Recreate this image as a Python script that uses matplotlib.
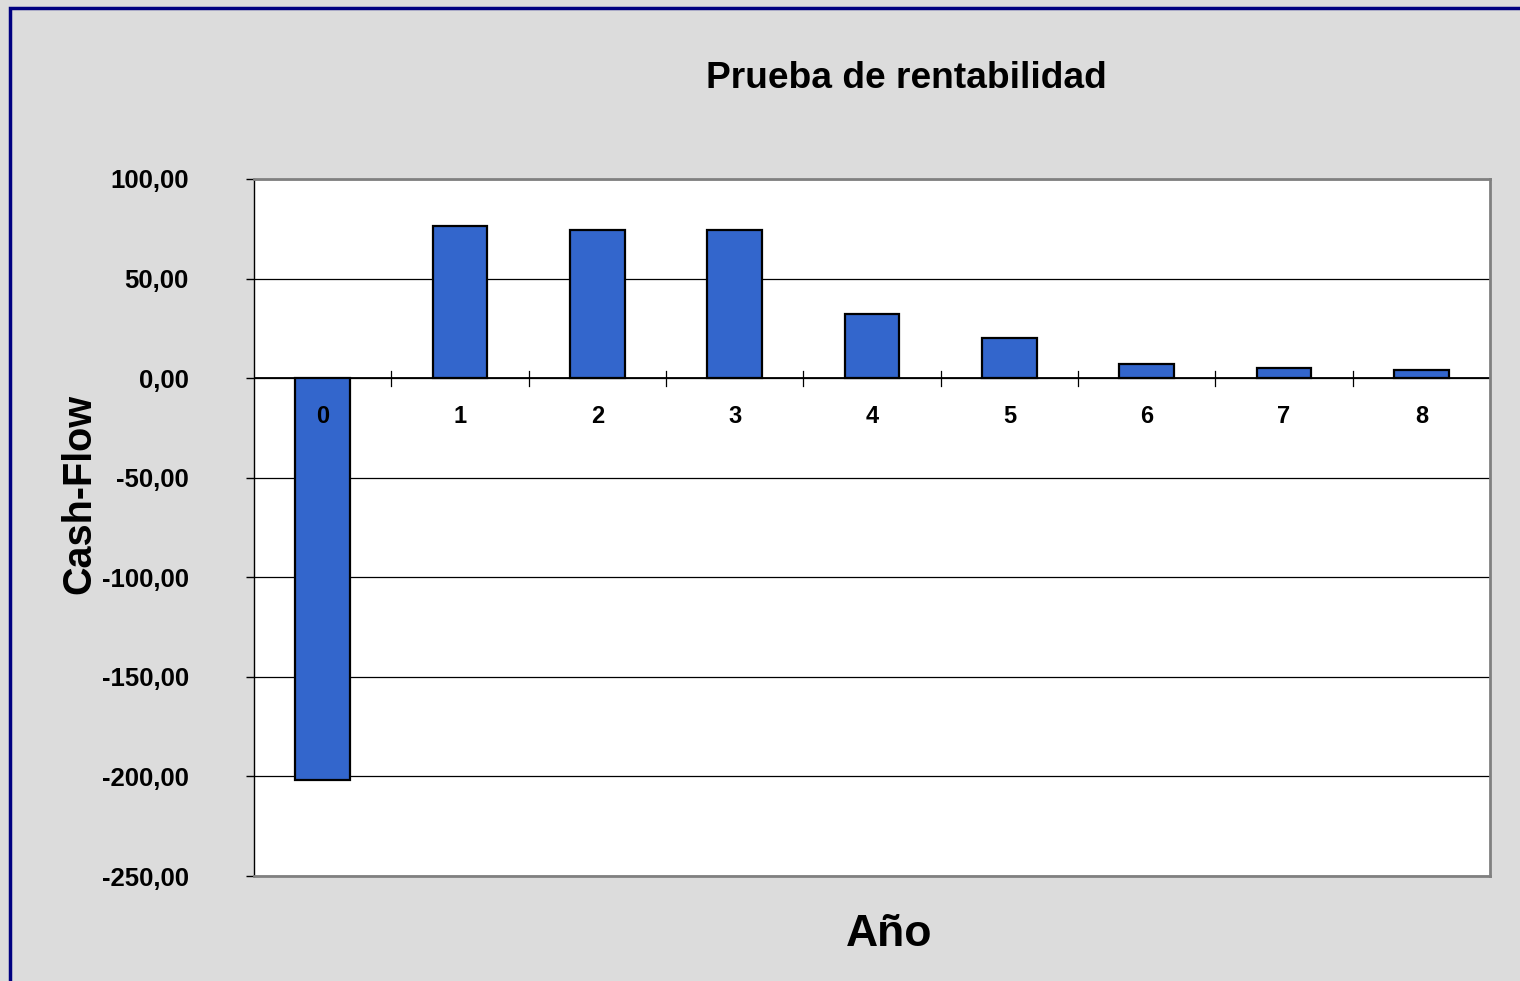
import matplotlib
matplotlib.use("Agg")
import matplotlib.pyplot as plt
import matplotlib.patches as mpatches
from matplotlib.ticker import FuncFormatter, MultipleLocator

# data
years = ["0", "1", "2", "3", "4", "5", "6", "7", "8"]
cash_flow = [-202.0, 76.5, 74.5, 74.5, 32.0, 20.0, 7.0, 5.0, 4.0]

plt.rcParams['font.family'] = ['Liberation Sans', 'DejaVu Sans']

fig = plt.figure(figsize=(15.2, 9.81), dpi=100)
fig.patch.set_facecolor('#DCDCDC')

# navy outer frame (only top and left visible in the original)
frame = mpatches.Rectangle((10 / 1520, -0.01), 1.2, 1 - 8 / 981 + 0.01,
                           transform=fig.transFigure, fill=False,
                           edgecolor='#000080', linewidth=2.5, zorder=0)
fig.patches.append(frame)

ax = fig.add_axes([254 / 1520, 1 - 876 / 981, (1490 - 254) / 1520, (876 - 179) / 981])
ax.set_facecolor('white')

x = list(range(len(years)))
ax.bar(x, cash_flow, width=0.4, color='#3366CC', edgecolor='black',
       linewidth=1.6, zorder=3)

ax.set_xlim(-0.5, len(years) - 0.5)
ax.set_ylim(-250, 100)
ax.yaxis.set_major_locator(MultipleLocator(50))
ax.yaxis.set_major_formatter(FuncFormatter(lambda v, p: f"{v:.2f}".replace('.', ',')))
ax.grid(axis='y', color='black', linewidth=0.9, zorder=1)
ax.set_axisbelow(True)

# category axis drawn at zero
ax.axhline(0, color='black', linewidth=1.3, zorder=2)
for b in range(1, len(years)):
    ax.plot([b - 0.5, b - 0.5], [-3.8, 3.5], color='black', linewidth=0.9, zorder=2)
ax.set_xticks([])
for i, lab in enumerate(years):
    ax.text(i, -19.5, lab, ha='center', va='center', fontsize=17, fontweight='bold')

for s in ['top', 'right', 'bottom']:
    ax.spines[s].set_color('#808080')
    ax.spines[s].set_linewidth(2)
ax.spines['left'].set_color('black')
ax.spines['left'].set_linewidth(1)

ax.tick_params(axis='y', length=6, width=1, direction='out', pad=41, labelsize=18.5)
for t in ax.get_yticklabels():
    t.set_fontweight('bold')

fig.text(906 / 1520, 1 - 79 / 981, "Prueba de rentabilidad", ha='center', va='center',
         fontsize=26.7, fontweight='bold')
fig.text(889 / 1520, 1 - 935 / 981, "Año", ha='center', va='center',
         fontsize=32, fontweight='bold')
fig.text(79 / 1520, 1 - 494 / 981, "Cash-Flow", ha='center', va='center',
         rotation=90, fontsize=28.5, fontweight='bold')

fig.savefig("out.png", dpi=100, facecolor=fig.get_facecolor())
